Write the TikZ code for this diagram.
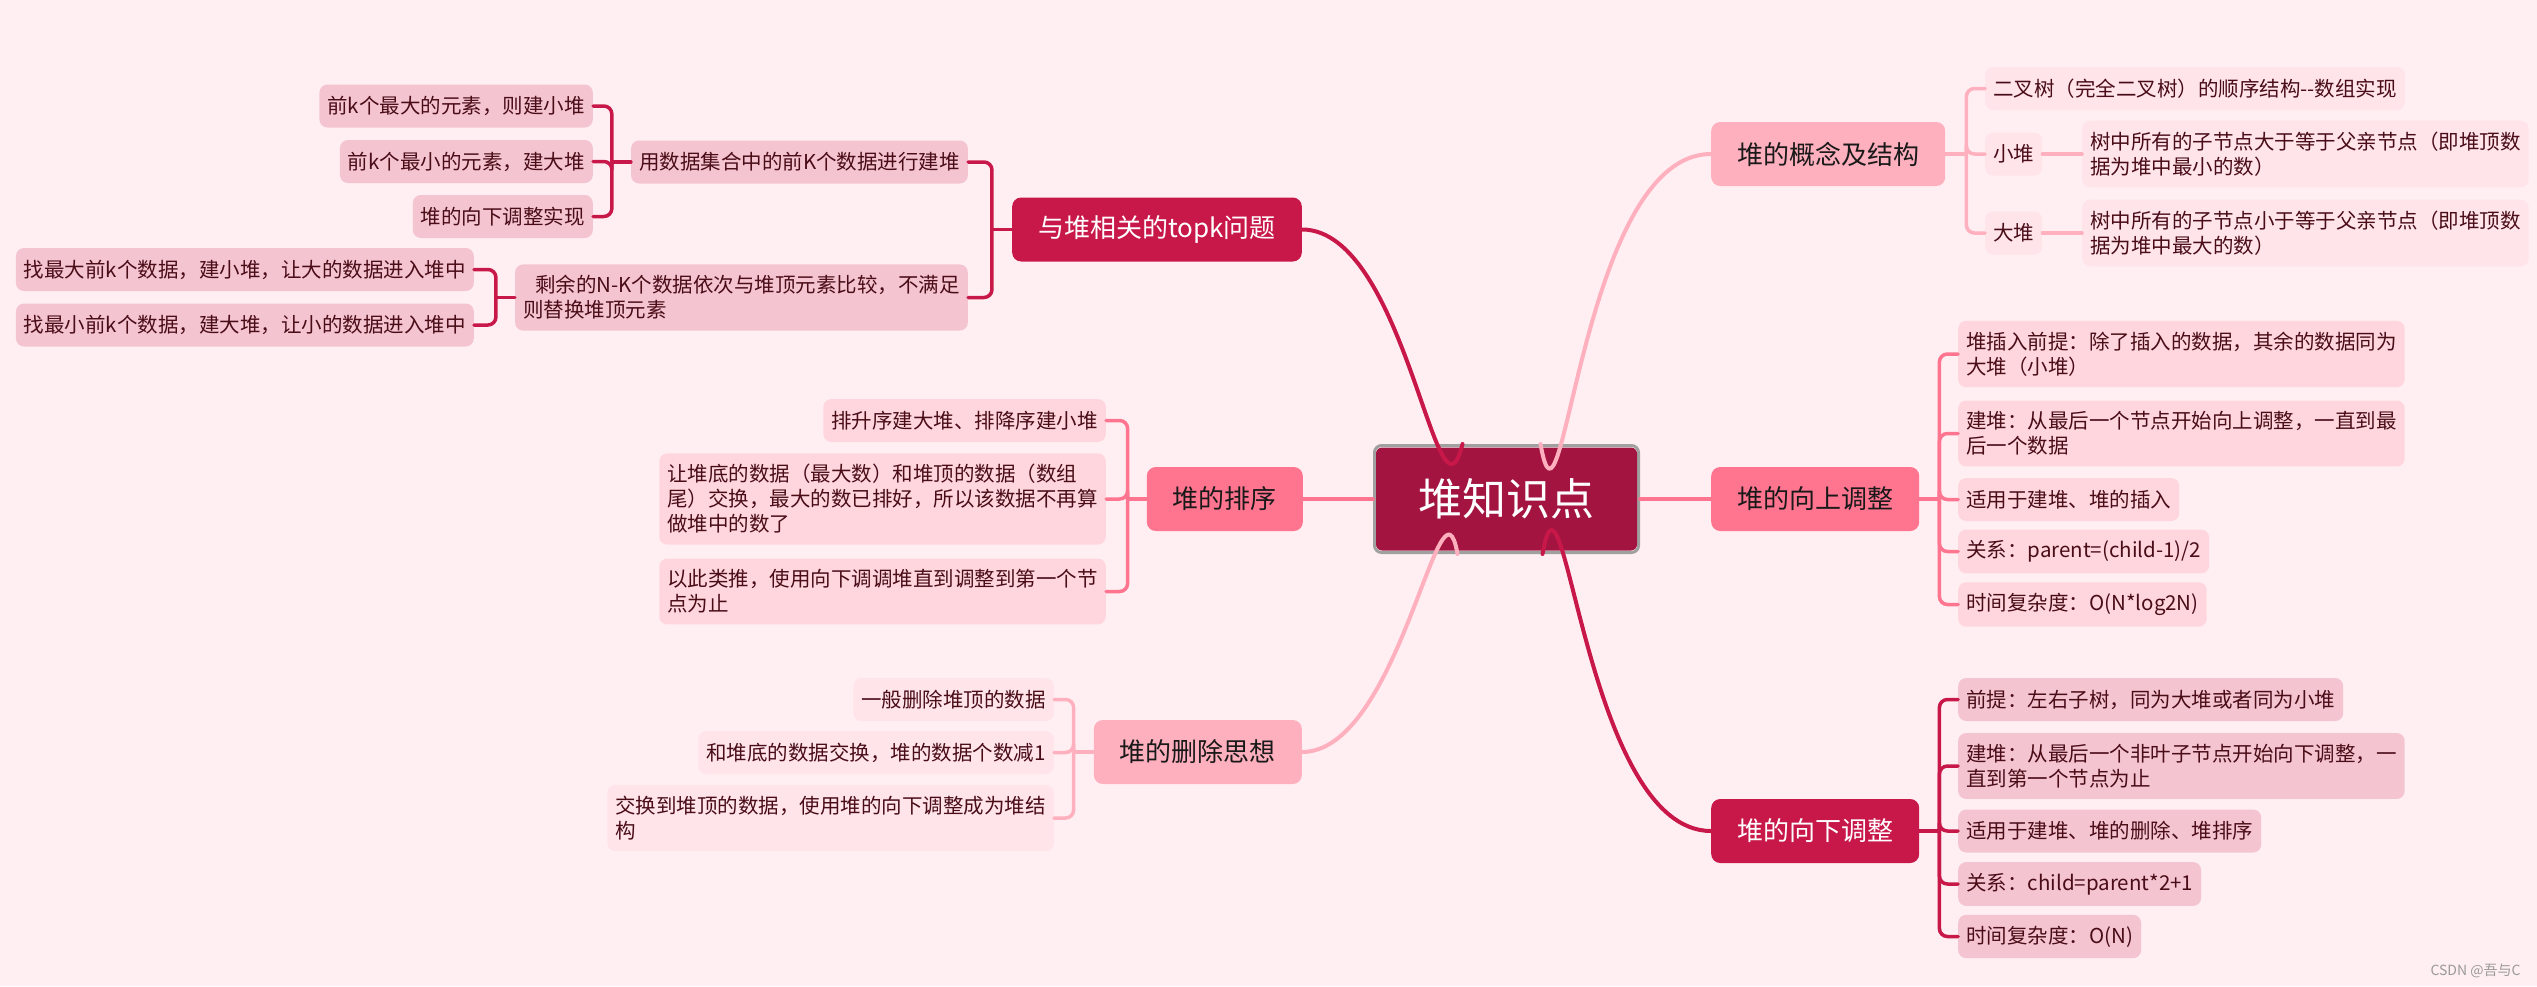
\documentclass[tikz,border=0pt]{standalone}
\usepackage{fontspec}
\setmainfont{Noto Sans CJK SC}
\definecolor{bgpink}{HTML}{FFEFF2}
\definecolor{crim}{HTML}{C8184A}
\definecolor{hubred}{HTML}{A31441}
\definecolor{salmon}{HTML}{FF7590}
\definecolor{lpink}{HTML}{FFB0BE}
\definecolor{leafA}{HTML}{F4C4D0}
\definecolor{leafB}{HTML}{FFD6DE}
\definecolor{leafC}{HTML}{FFE4EA}
\definecolor{leaftext}{HTML}{4A0D18}
\definecolor{framegray}{HTML}{A0A0A0}
\begin{document}
\begin{tikzpicture}[x=1pt,y=-1pt,line cap=round,line join=round]
\tikzset{leaf/.style={fill=#1,rounded corners=8pt,inner xsep=8pt,inner ysep=11pt,minimum height=43pt,
  align=left,text=leaftext,font=\fontsize{20.5}{25}\selectfont},
branch/.style={fill=#1,rounded corners=9pt,inner xsep=26pt,minimum height=64pt,text=black!90,
  font=\fontsize{26}{30}\selectfont},
conn/.style={draw=#1,line width=4pt},
twig/.style={draw=#1,line width=3.5pt,rounded corners=8pt}
}
\fill[bgpink] (0,0) rectangle (2537,986);
\useasboundingbox (0,0) rectangle (2537,986);
\node[draw=framegray,fill=white,line width=3pt,rounded corners=7pt,minimum width=264pt,minimum height=107pt] (hubf) at (1506.5,499) {};
\node[fill=hubred,rounded corners=6pt,minimum width=261pt,minimum height=103pt,text=white,font=\fontsize{44}{50}\selectfont] (hub) at (1506.5,499) {堆知识点};
\coordinate (hubtl) at ([xshift=-44pt]hubf.north);
\coordinate (hubtr) at ([xshift=34pt]hubf.north);
\coordinate (hubbl) at ([xshift=-49pt]hubf.south);
\coordinate (hubbr) at ([xshift=36pt]hubf.south);
\node[branch=crim,text=white,anchor=east] (topk) at (1302,229.5) {与堆相关的topk问题};
\node[branch=salmon,anchor=east] (sort) at (1303,499) {堆的排序};
\node[branch=lpink,anchor=east] (del) at (1302,752) {堆的删除思想};
\node[branch=lpink,anchor=west] (concept) at (1711,154) {堆的概念及结构};
\node[branch=salmon,anchor=west] (up) at (1711,499) {堆的向上调整};
\node[branch=crim,text=white,anchor=west] (down) at (1711,831) {堆的向下调整};
\node[leaf=leafA,anchor=east] (tka) at (968,162) {用数据集合中的前K个数据进行建堆};
\node[leaf=leafA,anchor=east] (tkb) at (968,297.5) {\hspace*{12pt}剩余的N-K个数据依次与堆顶元素比较，不满足\\则替换堆顶元素};
\node[leaf=leafA,anchor=east] (tka1) at (593,106) {前k个最大的元素，则建小堆};
\node[leaf=leafA,anchor=east] (tka2) at (593,161.5) {前k个最小的元素，建大堆};
\node[leaf=leafA,anchor=east] (tka3) at (593,216.5) {堆的向下调整实现};
\node[leaf=leafA,anchor=east] (tkb1) at (474,269.5) {找最大前k个数据，建小堆，让大的数据进入堆中};
\node[leaf=leafA,anchor=east] (tkb2) at (474,325) {找最小前k个数据，建大堆，让小的数据进入堆中};
\node[leaf=leafB,anchor=east] (so1) at (1106,420.5) {排升序建大堆、排降序建小堆};
\node[leaf=leafB,anchor=east] (so2) at (1106,499) {让堆底的数据（最大数）和堆顶的数据（数组\\尾）交换，最大的数已排好，所以该数据不再算\\做堆中的数了};
\node[leaf=leafB,anchor=east] (so3) at (1106,591.5) {以此类推，使用向下调调堆直到调整到第一个节\\点为止};
\node[leaf=leafC,anchor=east] (de1) at (1054,699.5) {一般删除堆顶的数据};
\node[leaf=leafC,anchor=east] (de2) at (1054,752.5) {和堆底的数据交换，堆的数据个数减1};
\node[leaf=leafC,anchor=east] (de3) at (1054,818) {交换到堆顶的数据，使用堆的向下调整成为堆结\\构};
\node[leaf=leafC,anchor=west] (co1) at (1985,88.5) {二叉树（完全二叉树）的顺序结构{-}{-}数组实现};
\node[leaf=leafC,anchor=west] (co2) at (1985,154) {小堆};
\node[leaf=leafC,anchor=west] (co3) at (1985,233) {大堆};
\node[leaf=leafC,anchor=west] (co2t) at (2082,154) {树中所有的子节点大于等于父亲节点（即堆顶数\\据为堆中最小的数）};
\node[leaf=leafC,anchor=west] (co3t) at (2082,233) {树中所有的子节点小于等于父亲节点（即堆顶数\\据为堆中最大的数）};
\node[leaf=leafB,anchor=west] (up1) at (1958,354) {堆插入前提：除了插入的数据，其余的数据同为\\大堆（小堆）};
\node[leaf=leafB,anchor=west] (up2) at (1958,433.5) {建堆：从最后一个节点开始向上调整，一直到最\\后一个数据};
\node[leaf=leafB,anchor=west] (up3) at (1958,499.5) {适用于建堆、堆的插入};
\node[leaf=leafB,anchor=west] (up4) at (1958,551.5) {关系：parent=(child-1)/2};
\node[leaf=leafB,anchor=west] (up5) at (1958,604.5) {时间复杂度：O(N*log2N)};
\node[leaf=leafA,anchor=west] (dn1) at (1958,699.5) {前提：左右子树，同为大堆或者同为小堆};
\node[leaf=leafA,anchor=west] (dn2) at (1958,766) {建堆：从最后一个非叶子节点开始向下调整，一\\直到第一个节点为止};
\node[leaf=leafA,anchor=west] (dn3) at (1958,831) {适用于建堆、堆的删除、堆排序};
\node[leaf=leafA,anchor=west] (dn4) at (1958,884) {关系：child=parent*2+1};
\node[leaf=leafA,anchor=west] (dn5) at (1958,936.5) {时间复杂度：O(N)};
\node[anchor=east,text=black!40,font=\fontsize{14}{16}\selectfont] (wm) at (2524,971) {CSDN @吾与C};
\draw[conn=crim] (topk.east) to[out=0,in=256] (hubtl);
\draw[conn=lpink] (hubtr) to[out=-80,in=180] (concept.west);
\draw[conn=salmon] (hubf.west) -- (sort.east);
\draw[conn=salmon] (hubf.east) -- (up.west);
\draw[conn=lpink] (hubbl) to[out=100,in=0] (del.east);
\draw[conn=crim] (hubbr) to[out=80,in=180] (down.west);
\draw[twig=crim] (topk.west) -- ++(-20,0) coordinate (tkB);
\foreach \c in {tka,tkb} \draw[twig=crim] (tkB) |- (\c.east);
\draw[twig=crim] (tka.west) -- ++(-19,0) coordinate (tkaB);
\foreach \c in {tka1,tka2,tka3} \draw[twig=crim] (tkaB) |- (\c.east);
\draw[twig=crim] (tkb.west) -- ++(-19,0) coordinate (tkbB);
\foreach \c in {tkb1,tkb2} \draw[twig=crim] (tkbB) |- (\c.east);
\draw[twig=salmon] (sort.west) -- ++(-19,0) coordinate (soB);
\foreach \c in {so1,so2,so3} \draw[twig=salmon] (soB) |- (\c.east);
\draw[twig=lpink] (del.west) -- ++(-20,0) coordinate (deB);
\foreach \c in {de1,de2,de3} \draw[twig=lpink] (deB) |- (\c.east);
\draw[twig=lpink] (concept.east) -- ++(21,0) coordinate (coB);
\foreach \c in {co1,co2,co3} \draw[twig=lpink] (coB) |- (\c.west);
\draw[twig=lpink] (co2.east) -- (co2t.west);
\draw[twig=lpink] (co3.east) -- (co3t.west);
\draw[twig=salmon] (up.east) -- ++(20,0) coordinate (upB);
\foreach \c in {up1,up2,up3,up4,up5} \draw[twig=salmon] (upB) |- (\c.west);
\draw[twig=crim] (down.east) -- ++(20,0) coordinate (dnB);
\foreach \c in {dn1,dn2,dn3,dn4,dn5} \draw[twig=crim] (dnB) |- (\c.west);
\end{tikzpicture}
\end{document}
